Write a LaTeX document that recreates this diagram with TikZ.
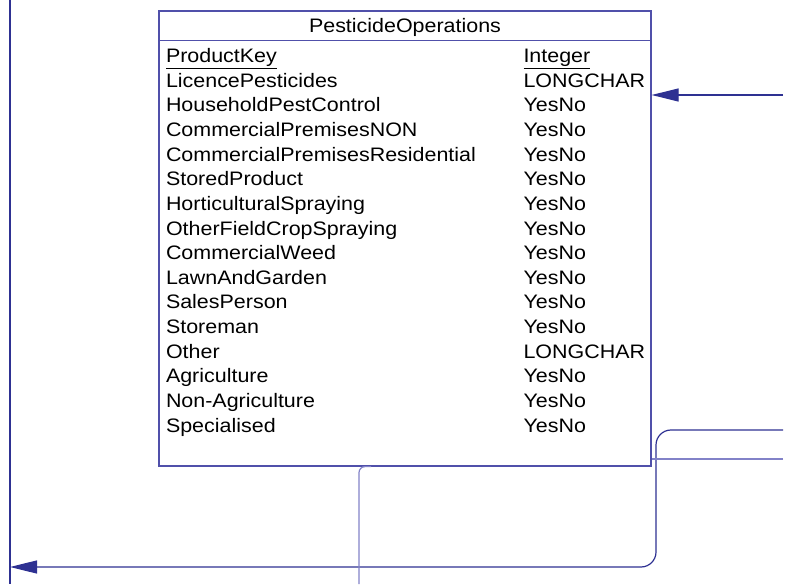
\documentclass[tikz,border=0pt]{standalone}
\usepackage{fontspec}
\setmainfont{Liberation Sans}[FakeStretch=1.1]
\usepackage{tikz}
\usetikzlibrary{arrows.meta,positioning}
\definecolor{edgeblue}{RGB}{46,49,146}
\definecolor{boxblue}{RGB}{80,80,170}
\definecolor{paleblue}{RGB}{130,130,200}
\tikzstyle{tablebox} = [rectangle,draw=boxblue,line width=1.2pt,inner sep=0pt]
\tikzstyle{field} = [inner sep=0pt,align=left,text height=14pt,text depth=4pt,
  font=\fontsize{19.5}{22}\selectfont]
\tikzstyle{keyfield} = [field,text width=340pt]
\tikzstyle{typefield} = [field,text width=120pt]
\tikzstyle{link} = [draw=edgeblue,line width=1.2pt,-{Triangle[length=27pt,width=13pt]}]
\tikzstyle{thinlink} = [draw=paleblue,line width=1.2pt]

\begin{document}
\begin{tikzpicture}[x=1pt, y=1pt, node distance = 24.65pt]
\useasboundingbox (0,0) rectangle (787,584);

\node [tablebox, minimum width=492pt, minimum height=455pt] (ops) at (405,345.5) {};
\draw [boxblue, line width=1.2pt] ([yshift=-30pt]ops.north west) -- ([yshift=-30pt]ops.north east);
\node [anchor=base, inner sep=0pt, font=\fontsize{19.5}{22}\selectfont] (title) at (405,551) {PesticideOperations};

% field names
\node [keyfield] (productkey) at (336,526.5) {\underline{ProductKey}};
\node [keyfield, below of=productkey] (licence) {LicencePesticides};
\node [keyfield, below of=licence] (household) {HouseholdPestControl};
\node [keyfield, below of=household] (premnon) {CommercialPremisesNON};
\node [keyfield, below of=premnon] (premres) {CommercialPremisesResidential};
\node [keyfield, below of=premres] (stored) {StoredProduct};
\node [keyfield, below of=stored] (horti) {HorticulturalSpraying};
\node [keyfield, below of=horti] (fieldcrop) {OtherFieldCropSpraying};
\node [keyfield, below of=fieldcrop] (weed) {CommercialWeed};
\node [keyfield, below of=weed] (lawn) {LawnAndGarden};
\node [keyfield, below of=lawn] (sales) {SalesPerson};
\node [keyfield, below of=sales] (storeman) {Storeman};
\node [keyfield, below of=storeman] (other) {Other};
\node [keyfield, below of=other] (agri) {Agriculture};
\node [keyfield, below of=agri] (nonagri) {Non-Agriculture};
\node [keyfield, below of=nonagri] (special) {Specialised};

% field types
\node [typefield] (productkey_t) at (583.5,526.5) {\underline{Integer}};
\node [typefield, below of=productkey_t] (licence_t) {LONGCHAR};
\node [typefield, below of=licence_t] (household_t) {YesNo};
\node [typefield, below of=household_t] (premnon_t) {YesNo};
\node [typefield, below of=premnon_t] (premres_t) {YesNo};
\node [typefield, below of=premres_t] (stored_t) {YesNo};
\node [typefield, below of=stored_t] (horti_t) {YesNo};
\node [typefield, below of=horti_t] (fieldcrop_t) {YesNo};
\node [typefield, below of=fieldcrop_t] (weed_t) {YesNo};
\node [typefield, below of=weed_t] (lawn_t) {YesNo};
\node [typefield, below of=lawn_t] (sales_t) {YesNo};
\node [typefield, below of=sales_t] (storeman_t) {YesNo};
\node [typefield, below of=storeman_t] (other_t) {LONGCHAR};
\node [typefield, below of=other_t] (agri_t) {YesNo};
\node [typefield, below of=agri_t] (nonagri_t) {YesNo};
\node [typefield, below of=nonagri_t] (special_t) {YesNo};

% outside ends
\coordinate (leftbox_top) at (10,584);
\coordinate (leftbox_bottom) at (10,0);
\coordinate (licence_src) at (783,489);
\coordinate (return_src) at (783,154);
\coordinate (side_src) at (783,125);
\coordinate (down_src) at (359,0);

\draw [edgeblue, line width=1.2pt] (leftbox_top) -- (leftbox_bottom);
\path [link] (licence_src) -- (licence_src -| ops.east);
\path [link, rounded corners=15pt] (return_src) -- (656,154) -- (656,17) -- (leftbox_bottom |- 0,17);
\path [thinlink] (side_src) -- (side_src -| ops.east);
\path [thinlink, rounded corners=6pt] (down_src) -- (down_src |- ops.south) -- ++(12,0);

\end{tikzpicture}
\end{document}
